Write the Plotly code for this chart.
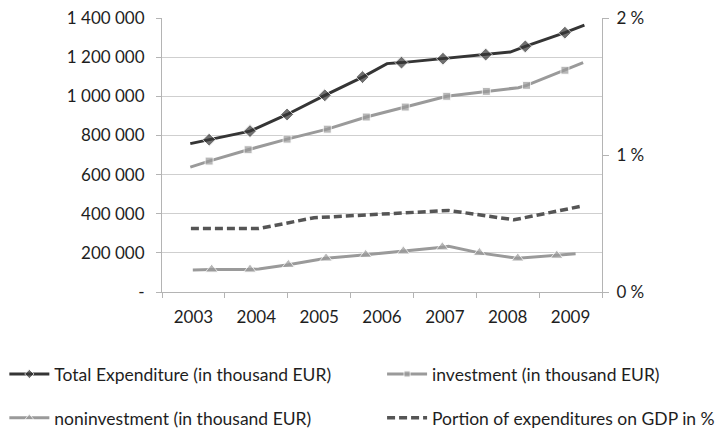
import plotly.graph_objects as go

# Year categories shown on the x axis
years = [2003, 2004, 2005, 2006, 2007, 2008, 2009]
year_edges = [2002.5, 2003.5, 2004.5, 2005.5, 2006.5, 2007.5, 2008.5, 2009.5]

# Total expenditure (thousand EUR)
total_x = [2002.95, 2003.25, 2003.90, 2004.49, 2005.09, 2005.69, 2006.08, 2006.31,
           2006.97, 2007.65, 2008.04, 2008.28, 2008.91, 2009.22]
total_y = [758000, 778000, 822000, 907000, 1005000, 1098000, 1167000, 1172000,
           1192000, 1213000, 1226000, 1255000, 1325000, 1364000]
total_mark = [0, 1, 1, 1, 1, 1, 0, 1, 1, 1, 0, 1, 1, 0]

# Investment (thousand EUR)
inv_x = [2002.95, 2003.25, 2003.87, 2004.49, 2005.13, 2005.75, 2006.37, 2007.03,
         2007.66, 2008.17, 2008.30, 2008.91, 2009.20]
inv_y = [638000, 669000, 727000, 781000, 832000, 894000, 945000, 1000000,
         1025000, 1044000, 1056000, 1133000, 1172000]
inv_mark = [0, 1, 1, 1, 1, 1, 1, 1, 1, 0, 1, 1, 0]

# Non-investment (thousand EUR)
noninv_x = [2002.99, 2003.29, 2003.90, 2004.04, 2004.51, 2005.11, 2005.74, 2006.34,
            2006.96, 2007.06, 2007.55, 2008.16, 2008.78, 2009.08]
noninv_y = [113000, 115000, 115000, 118000, 139000, 172000, 190000, 208000,
            229000, 234000, 200000, 172000, 186000, 195000]
noninv_mark = [0, 1, 1, 0, 1, 1, 1, 1, 1, 0, 1, 1, 1, 0]

# Share of expenditures on GDP (%)
gdp_x = [2002.96, 2004.04, 2004.92, 2006.06, 2007.06, 2008.10, 2009.15]
gdp_y = [0.463, 0.463, 0.542, 0.571, 0.595, 0.527, 0.624]

left_ticks = [0, 200000, 400000, 600000, 800000, 1000000, 1200000, 1400000]
left_text = ["-", "200 000", "400 000", "600 000", "800 000", "1 000 000", "1 200 000", "1 400 000"]
right_ticks = [0, 1, 2]
right_text = ["0 %", "1 %", "2 %"]

FONT = "Lato"
TEXT = "#1e1e1e"
GRID = "#cfcfcf"
AXIS = "#b4b4b4"
FS = 17
LEG_FS = 17.5


def sizes(flags, s):
    return [s if f else 0 for f in flags]


fig = go.Figure()

fig.add_trace(go.Scatter(
    x=total_x, y=total_y, mode="lines+markers",
    name="Total Expenditure (in thousand EUR)",
    line=dict(color="#353535", width=3),
    marker=dict(symbol="diamond", size=sizes(total_mark, 10), color="#353535"),
    legend="legend", legendgroup="a",
))
fig.add_trace(go.Scatter(
    x=noninv_x, y=noninv_y, mode="lines+markers",
    name="noninvestment (in thousand EUR)",
    line=dict(color="#9a9a9a", width=3),
    marker=dict(symbol="triangle-up", size=sizes(noninv_mark, 11), color="#9a9a9a"),
    legend="legend", legendgroup="b",
))
fig.add_trace(go.Scatter(
    x=inv_x, y=inv_y, mode="lines+markers",
    name="investment (in thousand EUR)",
    line=dict(color="#9a9a9a", width=3),
    marker=dict(symbol="square", size=sizes(inv_mark, 8), color="#9a9a9a"),
    legend="legend2", legendgroup="c",
))
fig.add_trace(go.Scatter(
    x=gdp_x, y=gdp_y, mode="lines", yaxis="y2",
    name="Portion of expenditures on GDP in %",
    line=dict(color="#555555", width=3.5, dash="8px,4px"),
    legend="legend2", legendgroup="d",
))

fig.update_layout(
    width=725, height=428,
    margin=dict(l=162, r=123, t=18, b=136, autoexpand=False),
    paper_bgcolor="white", plot_bgcolor="white",
    font=dict(family=FONT, size=FS, color=TEXT),
    xaxis=dict(
        range=[2002.5, 2009.5], tickvals=years, ticktext=[str(y) for y in years],
        ticks="", showgrid=False, zeroline=False,
        showline=True, linecolor=AXIS, linewidth=1,
        minor=dict(tickvals=year_edges, ticks="outside", ticklen=5,
                   tickcolor=AXIS, showgrid=False),
        ticklabelstandoff=10,
    ),
    yaxis=dict(
        range=[0, 1400000], tickvals=left_ticks, ticktext=left_text,
        ticks="outside", ticklen=5, tickcolor=AXIS,
        showgrid=True, gridcolor=GRID, gridwidth=1, zeroline=False,
        showline=True, linecolor=AXIS, linewidth=1,
        ticklabelstandoff=8,
    ),
    yaxis2=dict(
        range=[0, 2], tickvals=right_ticks, ticktext=right_text,
        overlaying="y", side="right", anchor="x",
        ticks="outside", ticklen=6, tickcolor=AXIS,
        showgrid=False, zeroline=False,
        showline=True, linecolor=AXIS, linewidth=1,
        ticklabelstandoff=4,
    ),
    legend=dict(
        xref="container", yref="container", x=0.006, y=0.168,
        xanchor="left", yanchor="top", orientation="v",
        itemwidth=40, tracegroupgap=18, bgcolor="rgba(0,0,0,0)",
        font=dict(family=FONT, size=LEG_FS, color=TEXT),
    ),
    legend2=dict(
        xref="container", yref="container", x=0.527, y=0.168,
        xanchor="left", yanchor="top", orientation="v",
        itemwidth=40, tracegroupgap=18, bgcolor="rgba(0,0,0,0)",
        font=dict(family=FONT, size=LEG_FS, color=TEXT),
    ),
    showlegend=True,
)

fig.write_html("out.html")
